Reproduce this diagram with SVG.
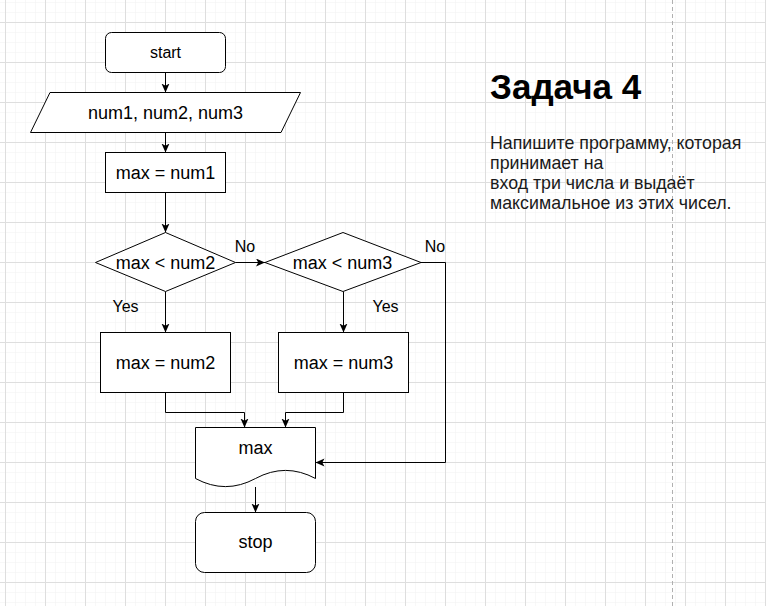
<svg xmlns="http://www.w3.org/2000/svg" width="766" height="606" viewBox="0 0 766 606">
<style>
.shape{fill:#fff;stroke:#000;stroke-width:1}
.edge{fill:none;stroke:#000;stroke-width:1}
.t{font-family:"Liberation Sans",Arial,sans-serif;font-size:18px;fill:#000;text-anchor:middle}
.lbl{font-family:"Liberation Sans",Arial,sans-serif;font-size:16px;fill:#000;text-anchor:middle}
.body{font-family:"Liberation Sans",Arial,sans-serif;font-size:17.8px;fill:#1a1a1a}
</style>
<defs>
<pattern id="minor" x="5" y="2" width="10" height="10" patternUnits="userSpaceOnUse">
<path d="M0,0 H10 M0,0 V10" fill="none" stroke="#f1f1f1" stroke-width="1"/>
</pattern>
<pattern id="major" x="5" y="22" width="40" height="40" patternUnits="userSpaceOnUse">
<path d="M0,0.5 H40 M0.5,0 V40" fill="none" stroke="#dedede" stroke-width="1"/>
</pattern>
<marker id="arr" markerWidth="12" markerHeight="10" refX="9" refY="4" orient="auto" markerUnits="userSpaceOnUse">
<path d="M0,0 L9,4 L0,8 L2.2,4 Z" fill="#000"/>
</marker>
</defs>
<rect width="766" height="606" fill="#fff"/>
<rect width="766" height="606" fill="url(#minor)"/>
<rect width="766" height="606" fill="url(#major)"/>
<line x1="672.5" y1="0" x2="672.5" y2="606" stroke="#b0b0b0" stroke-width="1" stroke-dasharray="4,3"/>

<g id="connectors">
<path class="edge" d="M165.5,72.5 V92.5" marker-end="url(#arr)"/>
<path class="edge" d="M165.5,132.5 V152.5" marker-end="url(#arr)"/>
<path class="edge" d="M165.5,192.5 V232.5" marker-end="url(#arr)"/>
<path class="edge" d="M235.5,262.5 H265" marker-end="url(#arr)"/>
<path class="edge" d="M165.5,291.5 V332.5" marker-end="url(#arr)"/>
<path class="edge" d="M343.5,291.5 V332.5" marker-end="url(#arr)"/>
<path class="edge" d="M421,262.5 H445.5 V462.5 H315.5" marker-end="url(#arr)"/>
<path class="edge" d="M165.5,392.5 V412.5 H244.5 V427.5" marker-end="url(#arr)"/>
<path class="edge" d="M343.5,392.5 V412.5 H285.5 V427.5" marker-end="url(#arr)"/>
<path class="edge" d="M255.5,487 V512.5" marker-end="url(#arr)"/>
<text class="lbl" x="245" y="252">No</text>
<text class="lbl" x="435" y="252">No</text>
<text class="lbl" x="125.5" y="312">Yes</text>
<text class="lbl" x="385.5" y="312">Yes</text>
</g>

<g id="start">
<rect class="shape" x="105.5" y="32.5" width="120" height="40" rx="6"/>
<text class="lbl" x="165.5" y="58">start</text>
</g>
<g id="input">
<polygon class="shape" points="50,92.5 300.5,92.5 281,132.5 30.5,132.5"/>
<text class="t" x="165.5" y="119">num1, num2, num3</text>
</g>
<g id="assign1">
<rect class="shape" x="105.5" y="152.5" width="120" height="40"/>
<text class="t" x="165.5" y="178.5">max = num1</text>
</g>
<g id="cond1">
<polygon class="shape" points="165.5,232.5 235.5,262.5 165.5,291.5 95.5,262.5"/>
<text class="t" x="165.5" y="268.5">max &lt; num2</text>
</g>
<g id="cond2">
<polygon class="shape" points="343,232.5 421,262.5 343,291.5 265,262.5"/>
<text class="t" x="342.5" y="268.5">max &lt; num3</text>
</g>
<g id="assign2">
<rect class="shape" x="100.5" y="332.5" width="130" height="60"/>
<text class="t" x="165.5" y="368.5">max = num2</text>
</g>
<g id="assign3">
<rect class="shape" x="278.5" y="332.5" width="130" height="60"/>
<text class="t" x="343.5" y="368.5">max = num3</text>
</g>
<g id="output">
<path class="shape" d="M195.5,427.5 H315.5 V478.5 Q285.5,462.3 255.5,478.5 Q225.5,494.7 195.5,478.5 Z"/>
<text class="t" x="255.5" y="453.5">max</text>
</g>
<g id="stop">
<rect class="shape" x="195.5" y="512.5" width="120" height="60" rx="9"/>
<text class="t" x="255.5" y="548">stop</text>
</g>

<g id="note">
<text x="490" y="99" font-family="Liberation Sans,Arial,sans-serif" font-size="35" font-weight="bold" fill="#000">Задача 4</text>
<text class="body" x="490" y="149">Напишите программу, которая</text>
<text class="body" x="490" y="169">принимает на</text>
<text class="body" x="490" y="189">вход три числа и выдаёт</text>
<text class="body" x="490" y="209">максимальное из этих чисел.</text>
</g>
</svg>
